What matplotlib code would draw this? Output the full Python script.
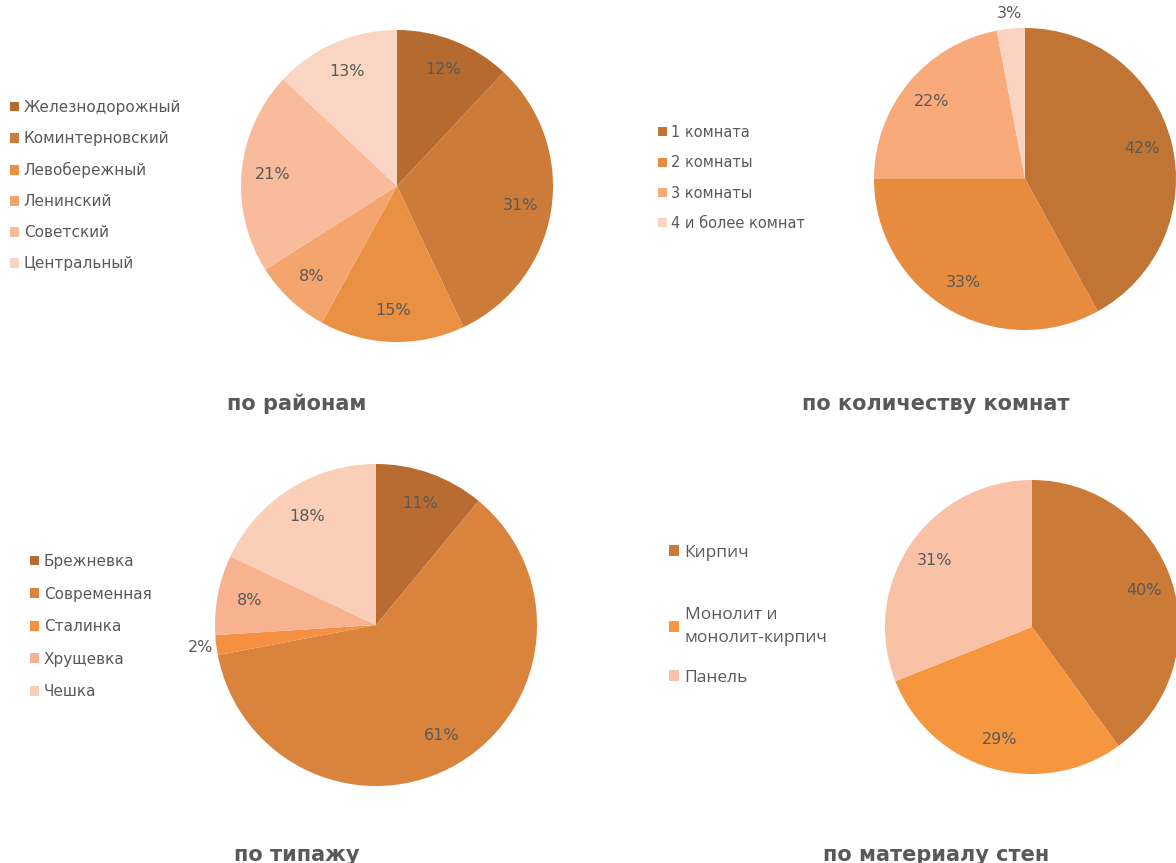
import matplotlib
matplotlib.use("Agg")
import matplotlib.pyplot as plt
from matplotlib.patches import Patch

W, H = 1176, 863

# данные
districts = ["Железнодорожный", "Коминтерновский", "Левобережный", "Ленинский", "Советский", "Центральный"]
districts_pct = [12, 31, 15, 8, 21, 13]
districts_colors = ["#b56a30", "#cd7b38", "#ea9043", "#f4a56d", "#f8bc9d", "#fad5c3"]

rooms = ["1 комната", "2 комнаты", "3 комнаты", "4 и более комнат"]
rooms_pct = [42, 33, 22, 3]
rooms_colors = ["#c07535", "#e78b3f", "#f8aa7a", "#fbd3c1"]

types = ["Брежневка", "Современная", "Сталинка", "Хрущевка", "Чешка"]
types_pct = [11, 61, 2, 8, 18]
types_colors = ["#b86c31", "#da833d", "#f58f42", "#f8b28f", "#fbceb8"]

walls = ["Кирпич", "Монолит и\nмонолит-кирпич", "Панель"]
walls_pct = [40, 29, 31]
walls_colors = ["#cc7a38", "#f6963f", "#f9c2a6"]

GREY = "#595959"
plt.rcParams['font.family'] = ['DejaVu Sans']

fig = plt.figure(figsize=(W / 100, H / 100), dpi=100)


def pie_axes(cx, cy, r):
    ax = fig.add_axes([(cx - r) / W, (H - cy - r) / H, 2 * r / W, 2 * r / H])
    ax.axis('off')
    return ax


def draw_pie(ax, vals, cols, outside=()):
    wedges, texts, autotexts = ax.pie(vals, colors=cols, startangle=90, counterclock=False,
                                      autopct='%.0f%%', pctdistance=0.8, radius=1,
                                      wedgeprops=dict(linewidth=0),
                                      textprops=dict(color=GREY, fontsize=11.5))
    for i in outside:
        x, y = autotexts[i].get_position()
        k = 1.1 / 0.8
        autotexts[i].set_position((x * k, y * k))
    for w in wedges:
        w.set_clip_on(False)
    for t in autotexts:
        t.set_clip_on(False)
    ax.set_aspect('auto')
    ax.set_xlim(-1, 1)
    ax.set_ylim(-1, 1)
    return wedges


def add_legend(labels, cols, x, y, fs=11, spacing=0.9, family='DejaVu Sans', linespacing=None):
    handles = [Patch(facecolor=c, edgecolor='none') for c in cols]
    leg = fig.legend(handles, labels, loc='upper left', bbox_to_anchor=(x / W, 1 - y / H),
                     frameon=False, labelcolor=GREY, handlelength=0.6,
                     handleheight=0.6, handletextpad=0.3, labelspacing=spacing,
                     borderaxespad=0, borderpad=0, prop=dict(family=family, size=fs))
    if linespacing:
        for t in leg.get_texts():
            t.set_linespacing(linespacing)
    return leg


def add_title(x, y, s):
    fig.text(x / W, 1 - y / H, s, ha='center', va='center',
             fontsize=15, fontweight='bold', color=GREY)


# по районам
ax1 = pie_axes(397, 186, 156)
draw_pie(ax1, districts_pct, districts_colors)
add_legend(districts, districts_colors, 10, 100, spacing=1.05)
add_title(297, 404, "по районам")

# по количеству комнат
ax2 = pie_axes(1025, 179, 151)
draw_pie(ax2, rooms_pct, rooms_colors, outside=(3,))
add_legend(rooms, rooms_colors, 658, 125, fs=10.5, spacing=1.05)
add_title(936, 404, "по количеству комнат")

# по типажу
ax3 = pie_axes(376, 625, 161)
draw_pie(ax3, types_pct, types_colors, outside=(2,))
add_legend(types, types_colors, 30, 554, spacing=1.15)
add_title(297, 855, "по типажу")

# по материалу стен
ax4 = pie_axes(1032, 627, 147)
draw_pie(ax4, walls_pct, walls_colors)
add_legend(walls[:1], walls_colors[:1], 669, 545, fs=12.5, family='Open Sans')
add_legend(walls[1:], walls_colors[1:], 669, 607, fs=12.5, spacing=1.35,
           family='Open Sans', linespacing=1.6)
add_title(936, 855, "по материалу стен")

fig.savefig("out.png", dpi=100)
